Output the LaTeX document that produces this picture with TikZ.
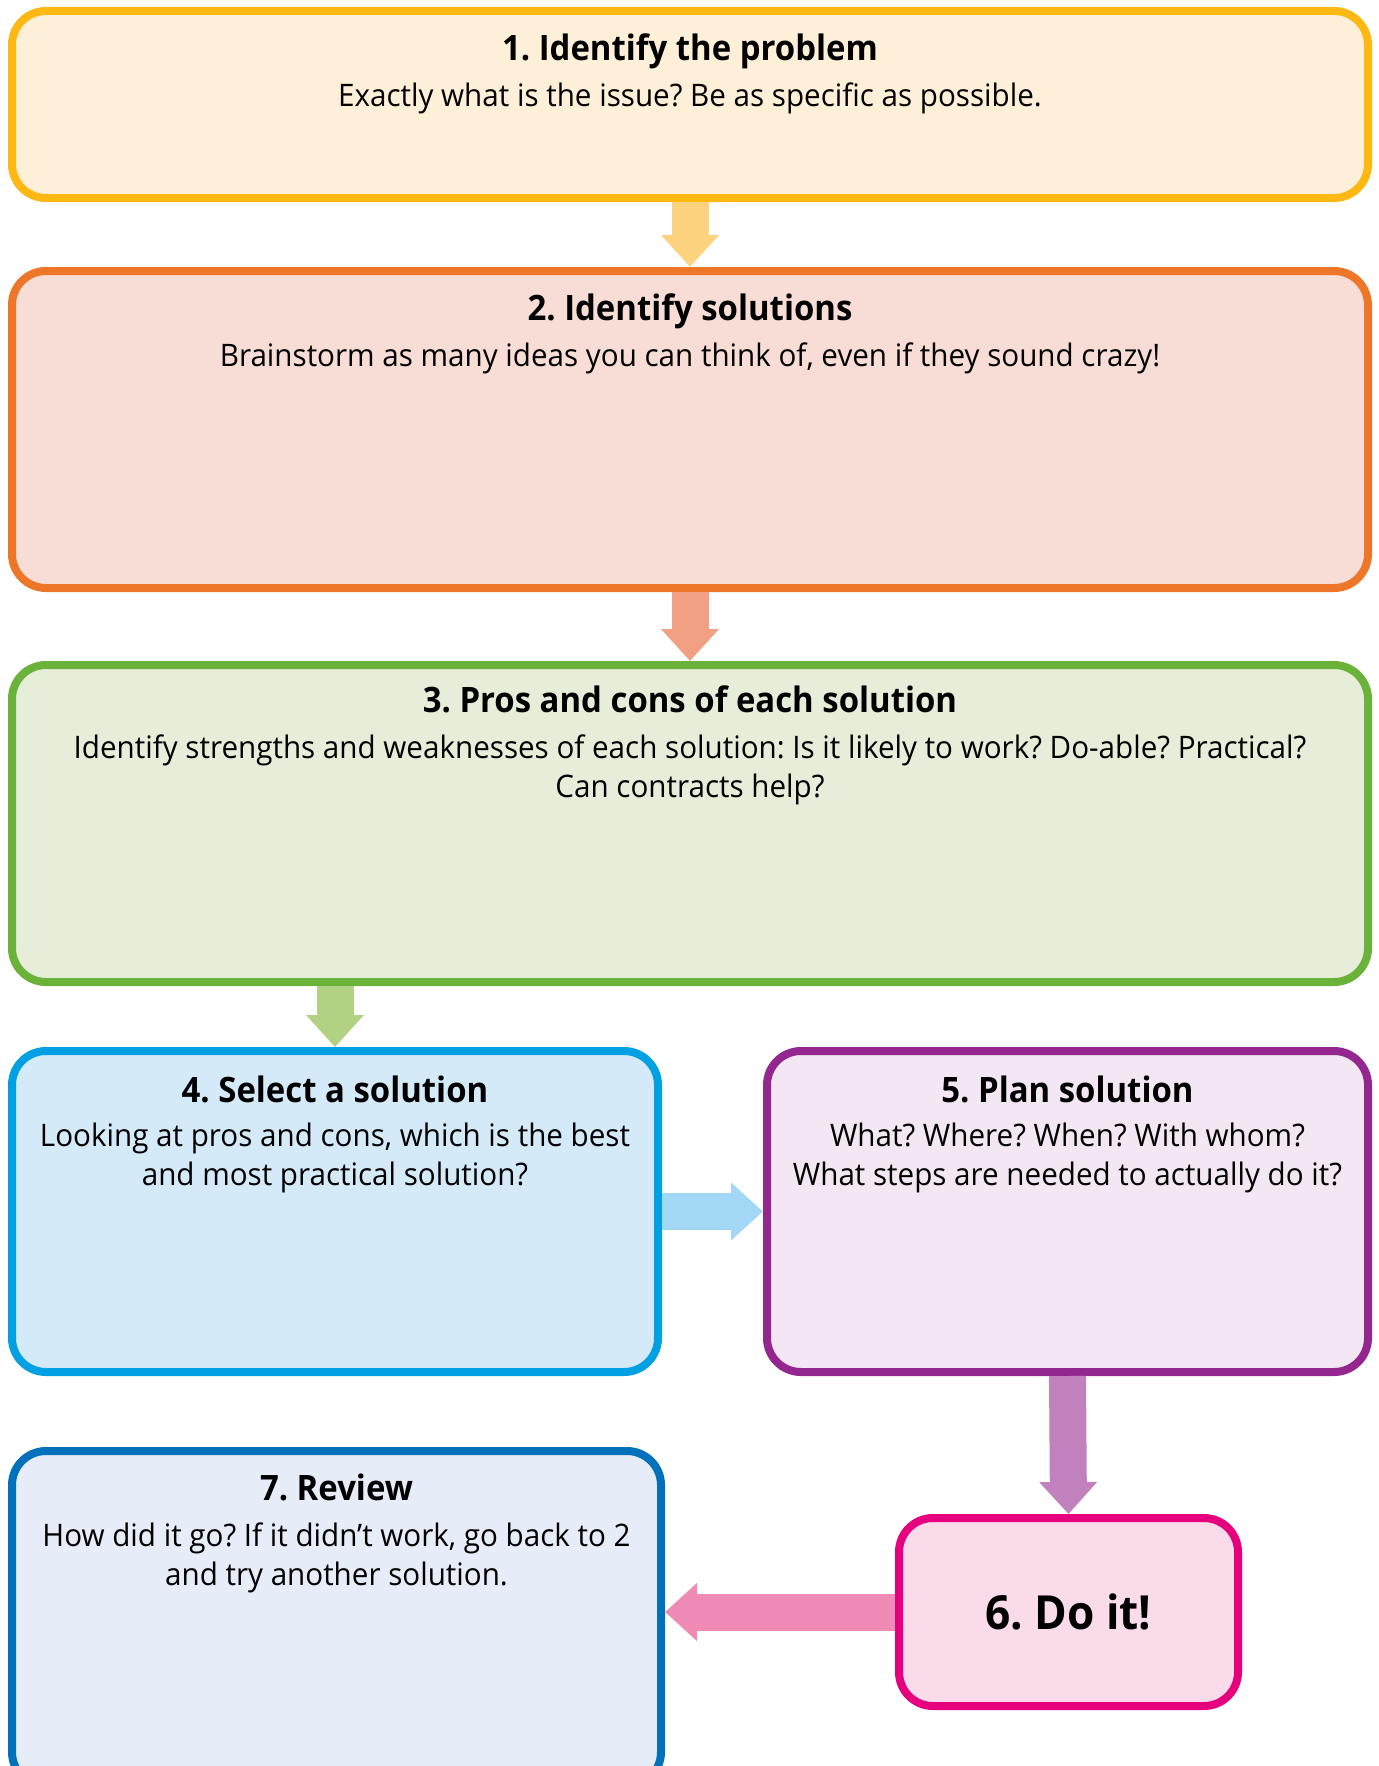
\documentclass[tikz,border=0pt]{standalone}
\usepackage{fontspec}
\setmainfont{Open Sans}[FakeStretch=0.94]
\newfontfamily\bodyfont{Open Sans}[FakeStretch=0.955]
\usetikzlibrary{arrows.meta}
\frenchspacing

\definecolor{oneline}{HTML}{FDB813}
\definecolor{onefill}{HTML}{FEF0D8}
\definecolor{onearrow}{HTML}{FED37F}
\definecolor{twoline}{HTML}{EE7628}
\definecolor{twofill}{HTML}{F7DDD6}
\definecolor{twoarrow}{HTML}{F1A083}
\definecolor{threeline}{HTML}{6AB23A}
\definecolor{threefill}{HTML}{E6EEDA}
\definecolor{threearrow}{HTML}{B1D282}
\definecolor{fourline}{HTML}{00A0E2}
\definecolor{fourfill}{HTML}{D4EAF9}
\definecolor{fourarrow}{HTML}{A2D8F5}
\definecolor{fiveline}{HTML}{93278F}
\definecolor{fivefill}{HTML}{F3E7F4}
\definecolor{fivearrow}{HTML}{C081BD}
\definecolor{sixline}{HTML}{E6007E}
\definecolor{sixfill}{HTML}{FADBEA}
\definecolor{sixarrow}{HTML}{EF8BB4}
\definecolor{sevenline}{HTML}{0071BA}
\definecolor{sevenfill}{HTML}{E6ECF8}

\tikzset{
  stage/.style args={#1/#2}{draw=#1, fill=#2, line width=4pt,
    rounded corners=17pt, inner sep=0pt},
  heading/.style={anchor=base, inner sep=0pt,
    font=\fontsize{17.5pt}{21pt}\selectfont\bfseries},
  body/.style={anchor=base, inner sep=0pt, align=center,
    font=\bodyfont\fontsize{15.5pt}{19.25pt}\selectfont},
  flow/.style={line width=18.5pt, draw=#1,
    -{Triangle[width=28pt,length=16pt]}},
}

\begin{document}
\begin{tikzpicture}[x=0.5pt,y=-0.5pt]
\useasboundingbox (0,0) rectangle (1378,1766);

% boxes
\node[stage={oneline/onefill}, minimum width=678pt, minimum height=93.5pt] (b1) at (690,104.5) {};
\node[stage={twoline/twofill}, minimum width=678pt, minimum height=158.5pt] (b2) at (690,429.5) {};
\node[stage={threeline/threefill}, minimum width=678pt, minimum height=158.5pt] (b3) at (690,823.5) {};
\node[stage={fourline/fourfill}, minimum width=323pt, minimum height=160.5pt] (b4) at (335,1211.5) {};
\node[stage={fiveline/fivefill}, minimum width=300.5pt, minimum height=160.5pt] (b5) at (1067.5,1211.5) {};
\node[stage={sixline/sixfill}, minimum width=169.5pt, minimum height=94pt,
      font=\fontsize{23.5pt}{27pt}\selectfont\bfseries] (b6) at (1068.5,1612) {6. Do it!};
\node[stage={sevenline/sevenfill}, minimum width=324.5pt, minimum height=167.5pt] (b7) at (336.5,1618.5) {};

% texts (a two-line body is placed by the baseline of its last line)
\node[heading] (t1) at ([yshift=-26.75pt]b1.north) {1. Identify the problem};
\node[body] (d1) at ([yshift=-49.75pt]b1.north) {Exactly what is the issue? Be as specific as possible.};

\node[heading] (t2) at ([yshift=-26.75pt]b2.north) {2. Identify solutions};
\node[body] (d2) at ([yshift=-49.75pt]b2.north) {Brainstorm as many ideas you can think of, even if they sound crazy!};

\node[heading] (t3) at ([yshift=-25.75pt]b3.north) {3. Pros and cons of each solution};
\node[body] (d3) at ([yshift=-68pt]b3.north) {Identify strengths and weaknesses of each solution: Is it likely to work? Do-able? Practical?\\Can contracts help?};

\node[heading] (t4) at ([yshift=-27.75pt]b4.north) {4. Select a solution};
\node[body] (d4) at ([yshift=-69pt]b4.north) {Looking at pros and cons, which is the best\\and most practical solution?};

\node[heading] (t5) at ([yshift=-27.75pt]b5.north) {5. Plan solution};
\node[body] (d5) at ([yshift=-69pt]b5.north) {What? Where? When? With whom?\\What steps are needed to actually do it?};

\node[heading] (t7) at ([yshift=-26.75pt]b7.north) {7. Review};
\node[body] (d7) at ([yshift=-69pt]b7.north) {How did it go? If it didn’t work, go back to 2\\and try another solution.};

% connectors
\draw[flow=onearrow] (b1.south) -- (b2.north);
\draw[flow=twoarrow] (b2.south) -- (b3.north);
\draw[flow=threearrow] (b4.north |- b3.south) -- (b4.north);
\draw[flow=fourarrow] (b4.east) -- (b5.west);
\draw[flow=fivearrow] (b5.south) -- (b6.north);
\draw[flow=sixarrow] (b6.west) -- (b6.west -| b7.east);
\end{tikzpicture}
\end{document}
